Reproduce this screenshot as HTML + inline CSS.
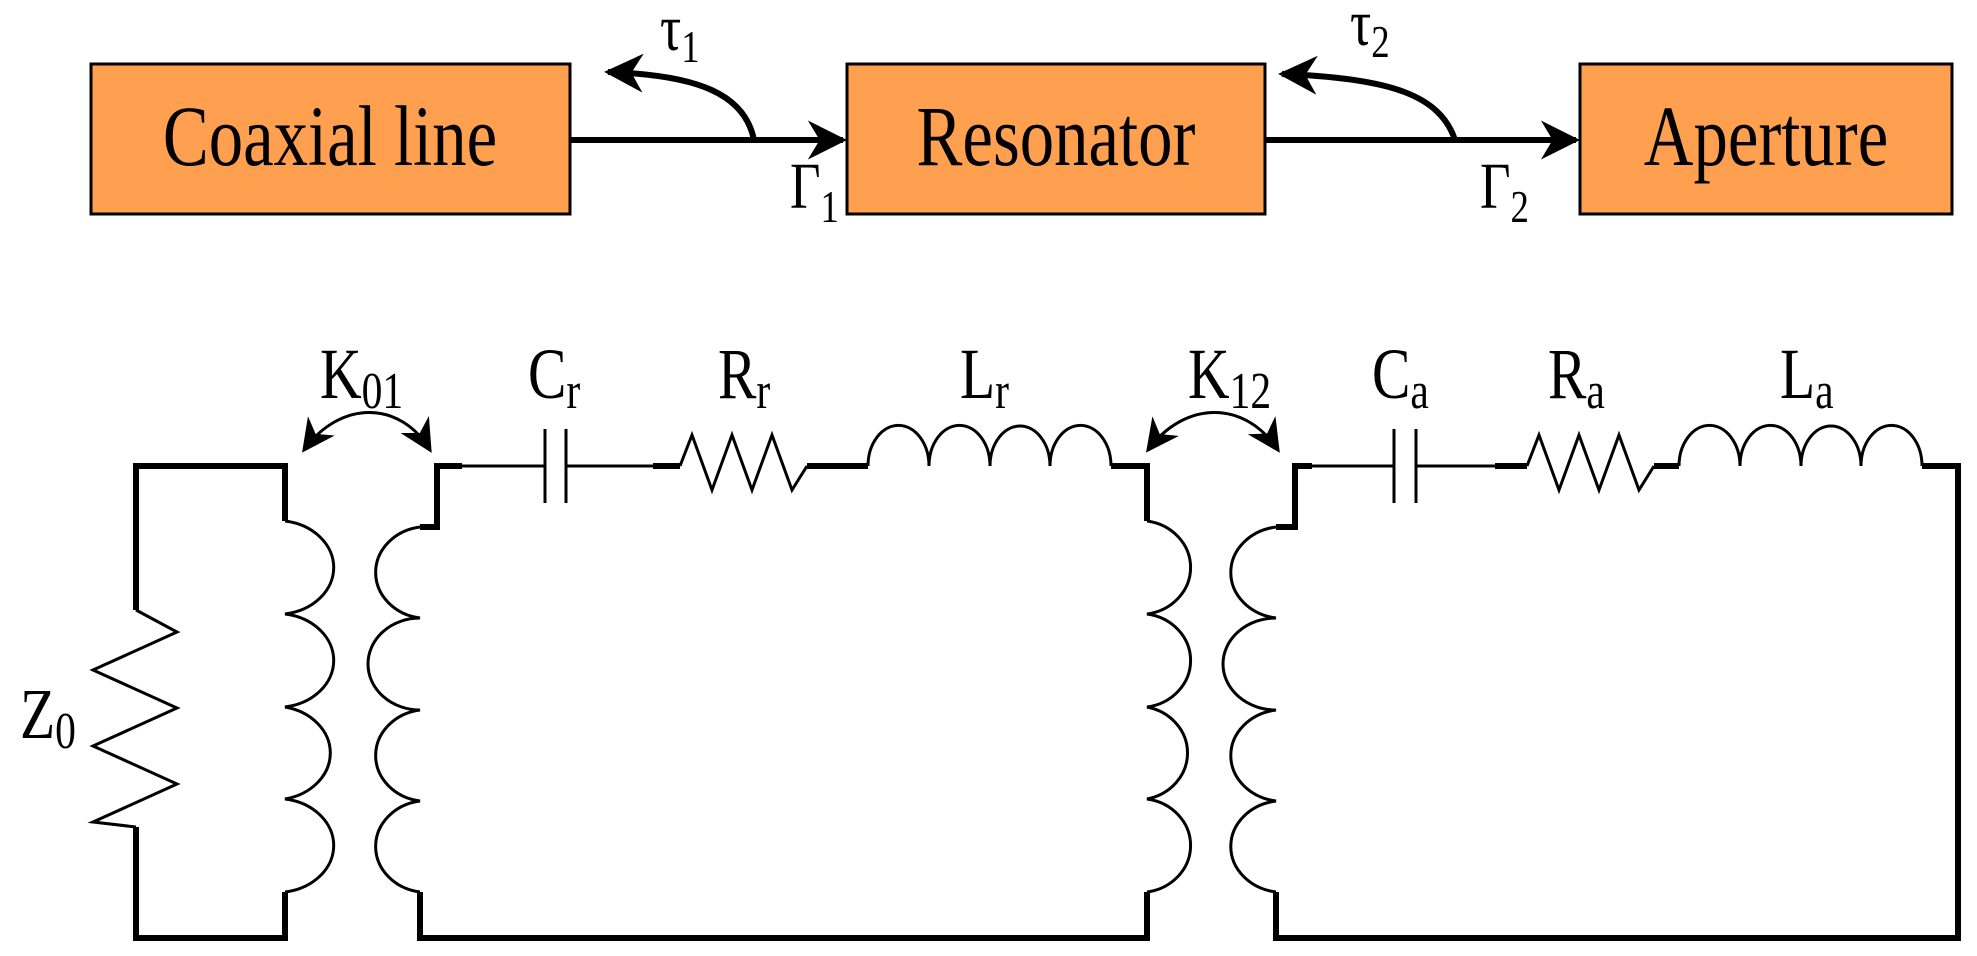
<!DOCTYPE html>
<html><head><meta charset="utf-8"><style>
html,body{margin:0;padding:0;background:#fff}
svg{display:block}
text{font-family:"Liberation Serif",serif;fill:#000}
</style></head><body>
<svg width="1977" height="956" viewBox="0 0 1977 956" xmlns="http://www.w3.org/2000/svg">
<defs>
<marker id="ah" viewBox="0 0 10 10" refX="9" refY="5" markerWidth="6.5" markerHeight="6.5" orient="auto-start-reverse" markerUnits="strokeWidth">
<path d="M0,0 L10,5 L0,10 L3,5 z" fill="#000"/></marker>
<marker id="ah2" viewBox="0 0 10 10" refX="9" refY="5" markerWidth="11" markerHeight="11" orient="auto-start-reverse" markerUnits="strokeWidth">
<path d="M0,0 L10,5 L0,10 L3,5 z" fill="#000"/></marker>
</defs>
<!-- boxes -->
<g fill="#FFA050" stroke="#000" stroke-width="3">
<rect x="91" y="64" width="479" height="150"/>
<rect x="847" y="64" width="418" height="150"/>
<rect x="1580" y="64" width="372" height="150"/>
</g>
<g font-size="86" text-anchor="middle">
<text transform="translate(330,165) scale(0.8,1)">Coaxial line</text>
<text transform="translate(1056,165) scale(0.8,1)">Resonator</text>
<text transform="translate(1766,165) scale(0.8,1)">Aperture</text>
</g>
<g stroke="#000" stroke-width="6" fill="none">
<line x1="570" y1="140" x2="843" y2="140" marker-end="url(#ah)"/>
<line x1="1265" y1="140" x2="1576" y2="140" marker-end="url(#ah)"/>
<path d="M754,140 C745,95 700,75 608,72" marker-end="url(#ah)"/>
<path d="M1455,140 C1440,95 1390,78 1282,74" marker-end="url(#ah)"/>
</g>
<g font-size="66">
<text transform="translate(660,50) scale(0.8,1)">τ<tspan font-size="46" dy="12">1</tspan></text>
<text transform="translate(1350,45) scale(0.8,1)">τ<tspan font-size="46" dy="12">2</tspan></text>
<text transform="translate(790,208) scale(0.8,1)">Γ<tspan font-size="46" dy="14">1</tspan></text>
<text transform="translate(1480,208) scale(0.8,1)">Γ<tspan font-size="46" dy="14">2</tspan></text>
</g>
<!-- circuit thick wires -->
<g stroke="#000" stroke-width="6" fill="none">
<polyline points="285,521 285,466 136,466 136,610"/>
<polyline points="136,827 136,938 285,938 285,892"/>
<polyline points="420,527 437,527 437,466 462,466"/>
<polyline points="420,892 420,938 1147,938 1147,892"/>
<polyline points="653,466 680,466"/>
<polyline points="807,466 868,466"/>
<polyline points="1111,466 1147,466 1147,521"/>
<polyline points="1276,527 1295,527 1295,466 1312,466"/>
<polyline points="1276,892 1276,938 1958,938 1958,466 1922,466"/>
<polyline points="1495,466 1527,466"/>
<polyline points="1654,466 1679,466"/>
</g>
<g stroke="#000" stroke-width="3" fill="none">
<polyline points="136,610 177,632 93,670 177,708 93,746 177,784 93,822 136,827"/>
<path d="M285,521 A57,47 0 0 1 285,614 A57,47 0 0 1 285,707 A57,47 0 0 1 285,799 A57,47 0 0 1 285,892"/>
<path d="M420,527 A52,46 0 0 0 420,618 A52,46 0 0 0 420,710 A52,46 0 0 0 420,801 A52,46 0 0 0 420,892"/>
<path d="M1147,521 A51,47 0 0 1 1147,614 A51,47 0 0 1 1147,707 A51,47 0 0 1 1147,799 A51,47 0 0 1 1147,892"/>
<path d="M1276,527 A53,46 0 0 0 1276,618 A53,46 0 0 0 1276,710 A53,46 0 0 0 1276,801 A53,46 0 0 0 1276,892"/>
<line x1="462" y1="466" x2="545" y2="466"/><line x1="566" y1="466" x2="653" y2="466"/>
<line x1="545" y1="429" x2="545" y2="503"/><line x1="566" y1="429" x2="566" y2="503"/>
<polyline points="680,466 692,435 712,490 732,435 752,490 772,435 792,490 807,466"/>
<path d="M868,466 A30,40 0 0 1 929,466 A30,40 0 0 1 990,466 A30,40 0 0 1 1050,466 A30,40 0 0 1 1111,466"/>
<line x1="1312" y1="466" x2="1394" y2="466"/><line x1="1416" y1="466" x2="1495" y2="466"/>
<line x1="1394" y1="429" x2="1394" y2="503"/><line x1="1416" y1="429" x2="1416" y2="503"/>
<polyline points="1527,466 1539,435 1559,490 1579,435 1599,490 1619,435 1639,490 1654,466"/>
<path d="M1679,466 A30,40 0 0 1 1740,466 A30,40 0 0 1 1801,466 A30,40 0 0 1 1861,466 A30,40 0 0 1 1922,466"/>
<path d="M304,450 C340,400 400,400 430,450" marker-start="url(#ah2)" marker-end="url(#ah2)"/>
<path d="M1148,450 C1185,400 1245,400 1278,450" marker-start="url(#ah2)" marker-end="url(#ah2)"/>
</g>
<g font-size="72">
<text transform="translate(320,398) scale(0.8,1)">K<tspan font-size="52" dy="10">01</tspan></text>
<text transform="translate(528,398) scale(0.8,1)">C<tspan font-size="52" dy="10">r</tspan></text>
<text transform="translate(718,398) scale(0.8,1)">R<tspan font-size="52" dy="10">r</tspan></text>
<text transform="translate(960,398) scale(0.8,1)">L<tspan font-size="52" dy="10">r</tspan></text>
<text transform="translate(1188,398) scale(0.8,1)">K<tspan font-size="52" dy="10">12</tspan></text>
<text transform="translate(1372,398) scale(0.8,1)">C<tspan font-size="52" dy="10">a</tspan></text>
<text transform="translate(1548,398) scale(0.8,1)">R<tspan font-size="52" dy="10">a</tspan></text>
<text transform="translate(1780,398) scale(0.8,1)">L<tspan font-size="52" dy="10">a</tspan></text>
<text transform="translate(20,738) scale(0.8,1)">Z<tspan font-size="52" dy="10">0</tspan></text>
</g>
</svg>
</body></html>
